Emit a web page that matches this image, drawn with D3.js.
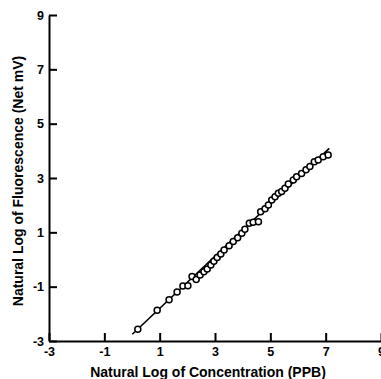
<!DOCTYPE html>
<html>
<head>
<meta charset="utf-8">
<script src="https://cdn.jsdelivr.net/npm/d3@7"></script>
<style>
  html, body { margin: 0; padding: 0; background: #fff; }
  svg { display: block; }
  text { font-family: "Liberation Sans", Arial, Helvetica, sans-serif; font-weight: bold; fill: #000; }
</style>
</head>
<body>
<svg id="chart" width="381" height="379"></svg>
<script>
// Data
const logConc = [0.21, 0.91, 1.34, 1.63, 1.84, 2.02, 2.17, 2.32, 2.46, 2.60, 2.72, 2.85, 2.96, 3.08, 3.21, 3.33, 3.51, 3.66, 3.82, 3.97, 4.08, 4.24, 4.38, 4.57, 4.65, 4.81, 4.93, 5.05, 5.17, 5.29, 5.41, 5.53, 5.65, 5.83, 5.95, 6.13, 6.29, 6.43, 6.59, 6.73, 6.91, 7.09];
const logFluor = [-2.57, -1.87, -1.48, -1.20, -0.98, -0.97, -0.63, -0.74, -0.57, -0.45, -0.35, -0.20, -0.06, 0.07, 0.20, 0.35, 0.51, 0.66, 0.80, 0.97, 1.11, 1.33, 1.37, 1.39, 1.76, 1.87, 2.01, 2.19, 2.31, 2.44, 2.50, 2.62, 2.78, 2.93, 3.05, 3.17, 3.30, 3.42, 3.60, 3.66, 3.78, 3.85];
const fitX = [0.01, 7.13];
const fitY = [-2.75, 4.09];
const xTicks = [-3, -1, 1, 3, 5, 7, 9];
const yTicks = [-3, -1, 1, 3, 5, 7, 9];
const xTitle = "Natural Log of Concentration (PPB)";
const yTitle = "Natural Log of Fluorescence (Net mV)";

const svg = d3.select("#chart");
const x = d3.scaleLinear().domain([-3, 9]).range([49, 381]);
const y = d3.scaleLinear().domain([-3, 9]).range([341, 15]);

const fmt = d => d < 0 ? "-" + Math.abs(d) : String(d);

const gx = svg.append("g").attr("transform", `translate(0,${y(-3)})`)
  .call(d3.axisBottom(x).tickValues(xTicks).tickSizeInner(-8).tickSizeOuter(0).tickPadding(6).tickFormat(fmt));
const gy = svg.append("g").attr("transform", `translate(${x(-3)},0)`)
  .call(d3.axisLeft(y).tickValues(yTicks).tickSizeInner(-8).tickSizeOuter(0).tickPadding(5).tickFormat(fmt));

[gx, gy].forEach(g => {
  g.select(".domain").attr("stroke", "#000").attr("stroke-width", 2);
  g.selectAll(".tick line").attr("stroke", "#000").attr("stroke-width", 2);
  g.selectAll(".tick text").style("font-size", "12.5px").style("font-weight", "bold")
    .style("font-family", '"Liberation Sans", Arial, sans-serif').attr("fill", "#000");
});

// fitted line
const fit = fitX.map((v, i) => [v, fitY[i]]);
svg.append("path")
  .attr("d", d3.line().x(d => x(d[0])).y(d => y(d[1]))(fit))
  .attr("stroke", "#000").attr("stroke-width", 1.6).attr("fill", "none");

// points
svg.append("g").selectAll("circle")
  .data(logConc.map((v, i) => [v, logFluor[i]]))
  .join("circle")
  .attr("cx", d => x(d[0])).attr("cy", d => y(d[1])).attr("r", 3)
  .attr("fill", "#fff").attr("stroke", "#000").attr("stroke-width", 1.5);

// axis titles
svg.append("text").attr("x", 208).attr("y", 377).attr("text-anchor", "middle")
  .style("font-size", "14px").text(xTitle);
svg.append("text").attr("transform", "translate(23,181) rotate(-90)").attr("text-anchor", "middle")
  .style("font-size", "14px").text(yTitle);
</script>
</body>
</html>
